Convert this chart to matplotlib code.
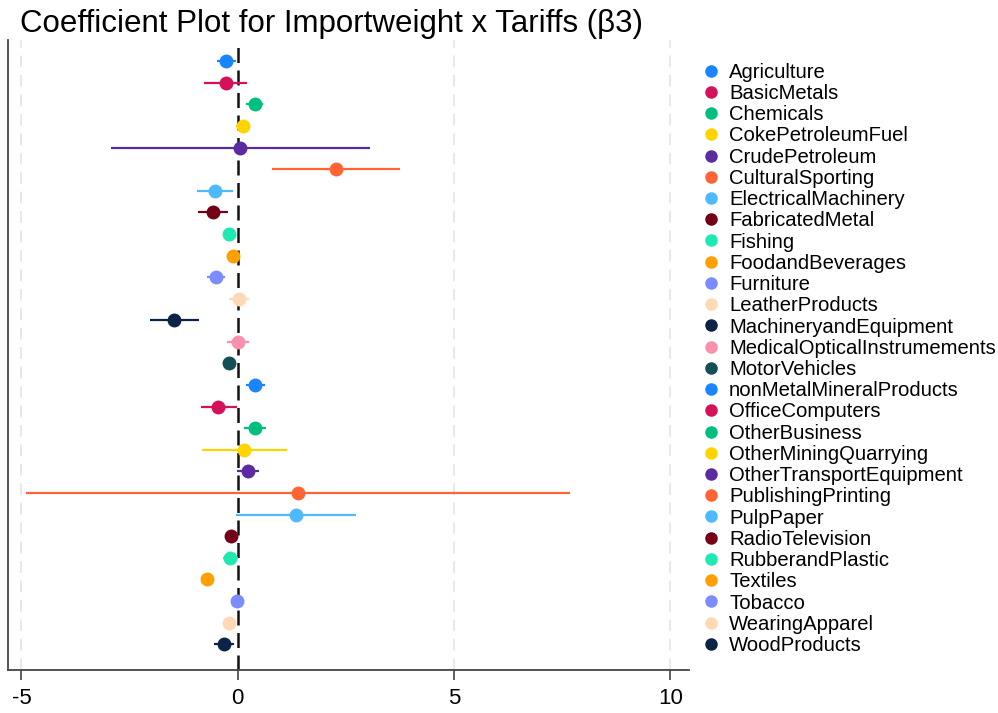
import matplotlib
matplotlib.use("Agg")
import matplotlib.pyplot as plt
from matplotlib.lines import Line2D

plt.rcParams['font.family'] = ['Liberation Sans', 'DejaVu Sans']

sectors = ["Agriculture", "BasicMetals", "Chemicals", "CokePetroleumFuel", "CrudePetroleum",
           "CulturalSporting", "ElectricalMachinery", "FabricatedMetal", "Fishing", "FoodandBeverages",
           "Furniture", "LeatherProducts", "MachineryandEquipment", "MedicalOpticalInstrumements",
           "MotorVehicles", "nonMetalMineralProducts", "OfficeComputers", "OtherBusiness",
           "OtherMiningQuarrying", "OtherTransportEquipment", "PublishingPrinting", "PulpPaper",
           "RadioTelevision", "RubberandPlastic", "Textiles", "Tobacco", "WearingApparel", "WoodProducts"]

coef = [-0.26, -0.28, 0.39, 0.11, 0.05, 2.26, -0.53, -0.57, -0.20, -0.11,
        -0.51, 0.03, -1.47, 0.00, -0.21, 0.40, -0.45, 0.41, 0.15, 0.24,
        1.40, 1.34, -0.15, -0.17, -0.72, -0.02, -0.21, -0.32]
ci_lo = [-0.48, -0.79, 0.20, -0.05, -2.94, 0.80, -0.95, -0.92, -0.28, -0.18,
         -0.71, -0.20, -2.02, -0.24, -0.28, 0.18, -0.85, 0.15, -0.83, -0.02,
         -4.90, -0.05, -0.22, -0.34, -0.82, -0.07, -0.27, -0.55]
ci_hi = [-0.03, 0.21, 0.58, 0.26, 3.05, 3.74, -0.11, -0.22, -0.12, -0.04,
         -0.30, 0.26, -0.90, 0.25, -0.14, 0.62, -0.02, 0.66, 1.14, 0.50,
         7.69, 2.74, -0.08, 0.01, -0.62, 0.03, -0.15, -0.09]

palette = ["#1a85ff", "#d41159", "#00bf7f", "#ffd400", "#5a2ca0", "#ff6435", "#4fb9ff",
           "#730017", "#1ee9b0", "#ffa000", "#7b8cff", "#ffd8b5", "#0b2346", "#f990ad", "#124f56"]
colors = [palette[i % len(palette)] for i in range(len(sectors))]

fig = plt.figure(figsize=(9.98, 7.13), dpi=100)
ax = fig.add_axes([0.008, 0.0603, 0.682, 0.884])

for i, name in enumerate(sectors):
    ax.plot([ci_lo[i], ci_hi[i]], [i, i], color=colors[i], lw=1.6, solid_capstyle='butt', zorder=3)
    ax.plot(coef[i], i, 'o', color=colors[i], ms=9, zorder=4)

for gx in [-5, 5, 10]:
    ax.axvline(gx, color='#e8e8e8', lw=1.4, ls=(0, (6, 4)), zorder=0)
ax.axvline(0, color='#111111', lw=1.8, ls=(0, (6, 3)), zorder=2)

ax.set_xlim(-5.31, 10.42)
ax.set_ylim(len(sectors) - 1 + 1.2, -1.0)
ax.set_xticks([-5, 0, 5, 10])
ax.set_xticklabels(["-5", "0", "5", "10"])
ax.set_yticks([])
ax.tick_params(axis='x', length=7, width=1.2, color='#444444', labelsize=16, pad=6)
for s in ['top', 'right']:
    ax.spines[s].set_visible(False)
for s in ['left', 'bottom']:
    ax.spines[s].set_color('#444444')
    ax.spines[s].set_linewidth(1.3)

handles = [Line2D([], [], marker='o', ls='none', color=c, ms=8) for c in colors]
fig.legend(handles, sectors, loc='upper left', bbox_to_anchor=(0.700, 0.912),
           frameon=False, fontsize=14.6, labelspacing=0.11, handletextpad=0.3,
           handlelength=1.2, borderaxespad=0, borderpad=0)

fig.text(0.02, 0.966, "Coefficient Plot for Importweight x Tariffs (β3)", fontsize=22.5,
         va='center', ha='left')

fig.savefig("out.png", dpi=100)
